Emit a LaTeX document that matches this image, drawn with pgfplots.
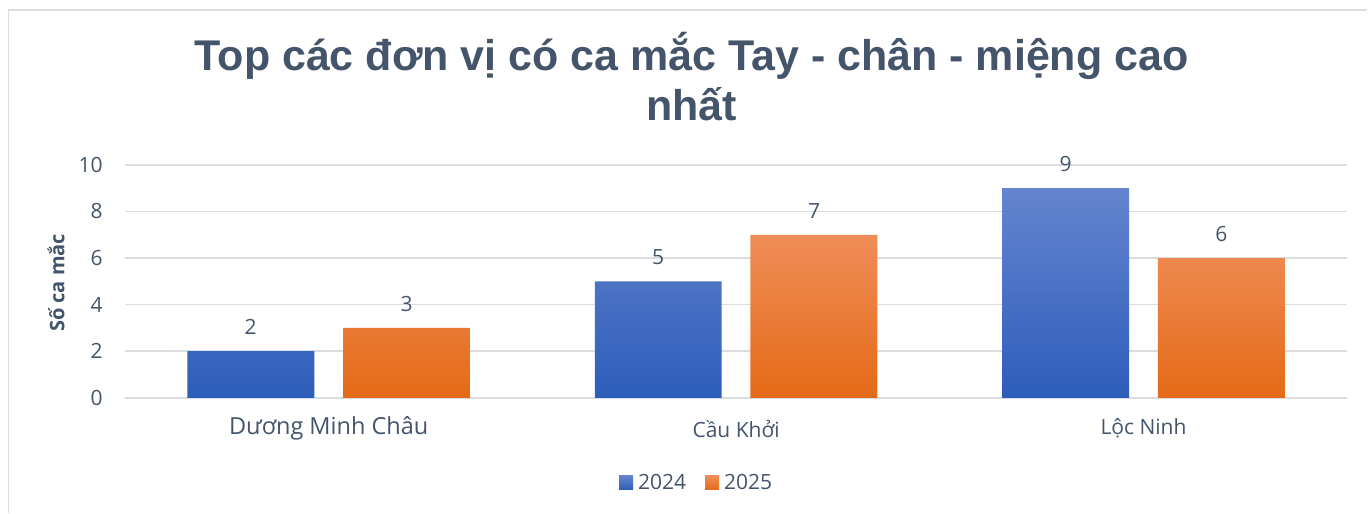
\documentclass[border=0pt]{standalone}
\usepackage{fontspec}
\setmainfont{Open Sans}
\newfontfamily\titlefont{Liberation Sans}
\usepackage{pgfplots}
\pgfplotsset{compat=1.18}
\definecolor{txt}{HTML}{44546A}
\definecolor{grd}{HTML}{D9DCE1}
\definecolor{bTop}{HTML}{6485CF}
\definecolor{bBot}{HTML}{2D5DBA}
\definecolor{oTop}{HTML}{F08D58}
\definecolor{oBot}{HTML}{E46A17}
\begin{document}
\begin{tikzpicture}[x=1pt,y=1pt]
\path (0,0) rectangle (1368,513);
\draw[color=grd, line width=1.5pt] (8.5,0) -- (8.5,503) -- (1368,503);
\node[anchor=base, text=txt, inner sep=0pt, font=\titlefont\bfseries\fontsize{43}{50}\selectfont] at (692,442) {Top các đơn vị có ca mắc Tay - chân - miệng cao};
\node[anchor=base, text=txt, inner sep=0pt, font=\titlefont\bfseries\fontsize{43}{50}\selectfont] at (692,392) {nhất};
\node[rotate=90, inner sep=0pt, font=\bfseries\fontsize{20}{24}\selectfont, text=txt] at (56,230) {Số ca mắc};
\begin{axis}[
  at={(125pt,115pt)}, anchor=south west,
  scale only axis, width=1223pt, height=233pt,
  xmin=-0.5, xmax=2.5, ymin=0, ymax=10,
  axis line style={draw=none},
  ymajorgrids, major grid style={color=grd, line width=1.5pt},
  ytick={0,2,4,6,8,10}, xtick={0,1,2},
  xticklabels={{\fontsize{23.5}{28}\selectfont Dương Minh Châu},{Cầu Khởi},{Lộc Ninh}},
  major tick length=0pt, tick style={draw=none},
  /pgf/number format/assume math mode=true,
  yticklabel style={anchor=east, inner sep=0pt, xshift=-22pt, text=txt, font=\fontsize{21}{25}\selectfont},
  xticklabel style={anchor=center, inner sep=0pt, yshift=-31pt, text=txt, font=\fontsize{21}{25}\selectfont},
  nodes near coords,
  every node near coord/.append style={anchor=center, inner sep=0pt, yshift=24pt, text=txt, font=\fontsize{21}{25}\selectfont},
  legend style={draw=none, fill=none, legend columns=2, anchor=center, at={(0.4677,-0.365)},
    font=\fontsize{21}{25}\selectfont, text=txt,
    /tikz/every even column/.append style={column sep=17pt}},
  legend image code/.code={\path[#1, draw=none] (0pt,-7pt) rectangle (14pt,7pt); \path (0pt,0pt) -- (17pt,0pt);},
]
\addplot[ybar, bar width=0.3115, bar shift=-0.191, draw=none, top color=bTop, bottom color=bBot,
  every node near coord/.append style={xshift=-78pt}] coordinates {(0,2) (1,5) (2,9)};
\addlegendentry{2024}
\addplot[ybar, bar width=0.3115, bar shift=0.191, draw=none, top color=oTop, bottom color=oBot,
  every node near coord/.append style={xshift=78pt}] coordinates {(0,3) (1,7) (2,6)};
\addlegendentry{2025}
\end{axis}
\end{tikzpicture}
\end{document}
